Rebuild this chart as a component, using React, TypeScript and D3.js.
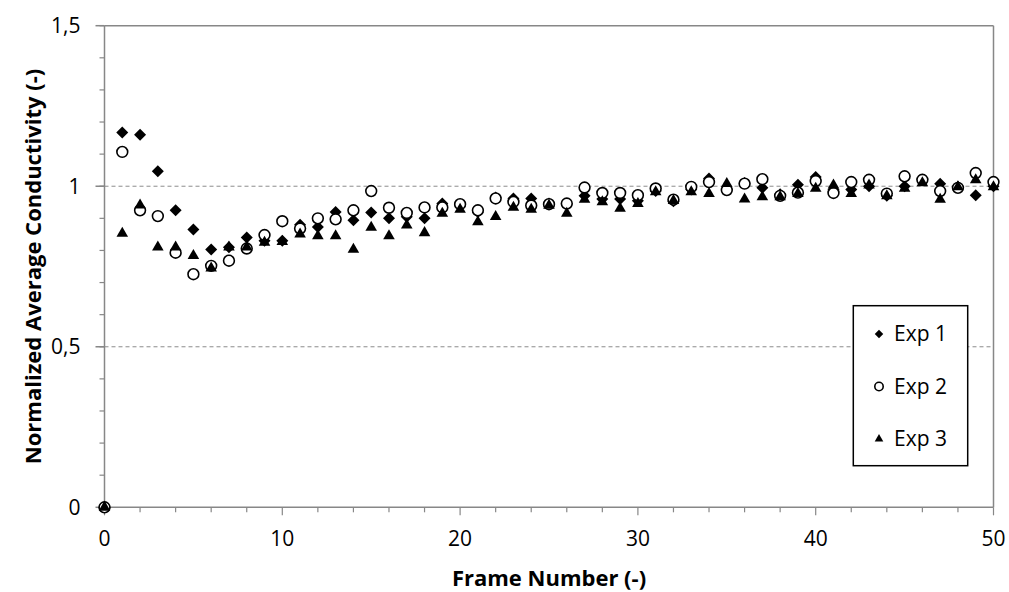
import * as d3 from 'd3';

const frames = d3.range(0, 51);

const exp1 = [
  0, 1.167, 1.16, 1.047, 0.925, 0.865, 0.803, 0.81, 0.84, 0.83, 0.83,
  0.88, 0.873, 0.92, 0.894, 0.918, 0.9, 0.905, 0.9, 0.946, 0.94,
  0.92, 0.965, 0.962, 0.962, 0.946, 0.945, 0.97, 0.96, 0.96, 0.955,
  0.985, 0.953, 0.99, 1.024, 0.99, 1.01, 0.995, 0.975, 1.005, 1.029,
  0.99, 0.99, 1.0, 0.97, 1.0, 1.02, 1.008, 0.998, 0.972, 1.0,
];

const exp2 = [
  0, 1.107, 0.925, 0.907, 0.793, 0.726, 0.752, 0.768, 0.806, 0.848, 0.891,
  0.868, 0.9, 0.897, 0.925, 0.985, 0.933, 0.917, 0.934, 0.934, 0.944,
  0.925, 0.962, 0.951, 0.94, 0.944, 0.946, 0.996, 0.979, 0.979, 0.972,
  0.993, 0.958, 0.998, 1.013, 0.988, 1.008, 1.022, 0.97, 0.98, 1.016,
  0.979, 1.013, 1.02, 0.977, 1.031, 1.02, 0.985, 0.995, 1.041, 1.013,
];

const exp3 = [
  0, 0.853, 0.941, 0.81, 0.81, 0.784, 0.745, 0.81, 0.81, 0.825, 0.827,
  0.851, 0.845, 0.845, 0.803, 0.872, 0.845, 0.879, 0.855, 0.915, 0.928,
  0.889, 0.905, 0.934, 0.928, 0.94, 0.915, 0.959, 0.951, 0.931, 0.946,
  0.982, 0.955, 0.982, 0.977, 1.008, 0.96, 0.967, 0.967, 0.977, 0.993,
  1.003, 0.977, 1.003, 0.97, 0.993, 1.01, 0.959, 0.998, 1.02, 0.998,
];

const xTicks = [0, 10, 20, 30, 40, 50];
const yTicks = [0, 0.5, 1, 1.5];
const seriesNames = ['Exp 1', 'Exp 2', 'Exp 3'];

const W = 1009;
const H = 592;
const left = 104.5;
const right = 993.5;
const top = 25.7;
const bottom = 507.3;
const font = "'Open Sans', 'Noto Sans', sans-serif";
const axisColor = '#878787';

const diamond = d3.symbol().type(d3.symbolSquare).size(72)();
const triangle = d3.symbol().type(d3.symbolTriangle).size(58)();
const diamondSmall = d3.symbol().type(d3.symbolSquare).size(36)();
const triangleSmall = d3.symbol().type(d3.symbolTriangle).size(32)();

function Marker({ kind, x, y, small }: { kind: number; x: number; y: number; small?: boolean }) {
  if (kind === 0) {
    return (
      <path
        d={small ? diamondSmall : diamond}
        transform={`translate(${x},${y}) rotate(45)`}
        fill="#000"
      />
    );
  }
  if (kind === 1) {
    return <circle cx={x} cy={y} r={small ? 4.2 : 5.4} fill="#fff" stroke="#000" strokeWidth={1.6} />;
  }
  return <path d={small ? triangleSmall : triangle} transform={`translate(${x},${y})`} fill="#000" />;
}

export default function App() {
  const x = d3.scaleLinear().domain([0, 50]).range([left, right]);
  const y = d3.scaleLinear().domain([0, 1.5]).range([bottom, top]);
  const series = [exp1, exp2, exp3];

  const minorY = d3.range(0, 16).map((i) => i / 10);
  const minorX = d3.range(0, 51, 2);

  return (
    <svg width={W} height={H} style={{ position: 'absolute', left: 0, top: 0 }}>
      <rect x={0} y={0} width={W} height={H} fill="#fff" />

      {/* gridlines */}
      {[0.5, 1].map((v) => (
        <line
          key={v}
          x1={left}
          x2={right}
          y1={y(v)}
          y2={y(v)}
          stroke="#8c8c8c"
          strokeWidth={1}
          strokeDasharray="4,3"
        />
      ))}

      {/* plot frame: top and right */}
      <line x1={left} x2={right} y1={top} y2={top} stroke={axisColor} strokeWidth={1.5} />
      <line x1={right} x2={right} y1={top} y2={bottom} stroke={axisColor} strokeWidth={1.5} />

      {/* y axis */}
      <line x1={left} x2={left} y1={top} y2={bottom} stroke={axisColor} strokeWidth={1.5} />
      {minorY.map((v) => (
        <line
          key={v}
          x1={left - 5}
          x2={left}
          y1={y(v)}
          y2={y(v)}
          stroke={axisColor}
          strokeWidth={1.2}
        />
      ))}
      {yTicks.map((v) => (
        <g key={v}>
          <line x1={left - 9} x2={left} y1={y(v)} y2={y(v)} stroke={axisColor} strokeWidth={1.5} />
          <text
            x={left - 24}
            y={y(v)}
            dy="0.35em"
            textAnchor="end"
            fontFamily={font}
            fontSize={21}
            fill="#000"
          >
            {String(v).replace('.', ',')}
          </text>
        </g>
      ))}

      {/* x axis */}
      <line x1={left} x2={right} y1={bottom} y2={bottom} stroke={axisColor} strokeWidth={1.5} />
      {minorX.map((v) => (
        <line
          key={v}
          x1={x(v)}
          x2={x(v)}
          y1={bottom}
          y2={bottom + (v % 10 === 0 ? 8 : 5)}
          stroke={axisColor}
          strokeWidth={1.2}
        />
      ))}
      {xTicks.map((v) => (
        <text
          key={v}
          x={x(v)}
          y={539}
          dy="0.35em"
          textAnchor="middle"
          fontFamily={font}
          fontSize={21}
          fill="#000"
        >
          {v}
        </text>
      ))}

      {/* axis titles */}
      <text
        x={549}
        y={578}
        dy="0.35em"
        textAnchor="middle"
        fontFamily={font}
        fontWeight="bold"
        fontSize={22}
        fill="#000"
      >
        Frame Number (-)
      </text>
      <text
        transform={`translate(33,${(top + bottom) / 2}) rotate(-90)`}
        dy="0.35em"
        textAnchor="middle"
        fontFamily={font}
        fontWeight="bold"
        fontSize={22}
        fill="#000"
      >
        Normalized Average Conductivity (-)
      </text>

      {/* points */}
      {series.map((vals, si) => (
        <g key={si}>
          {frames.map((f) => (
            <Marker key={f} kind={si} x={x(f)} y={y(vals[f])} />
          ))}
        </g>
      ))}

      {/* legend */}
      <rect x={853.3} y={305.7} width={114.4} height={160} fill="#fff" stroke="#000" strokeWidth={1.5} />
      {seriesNames.map((name, i) => {
        const ly = 334 + i * 52.5;
        return (
          <g key={name}>
            <Marker kind={i} x={879} y={ly} small />
            <text x={894} y={ly} dy="0.35em" fontFamily={font} fontSize={21} fill="#000">
              {name}
            </text>
          </g>
        );
      })}
    </svg>
  );
}
